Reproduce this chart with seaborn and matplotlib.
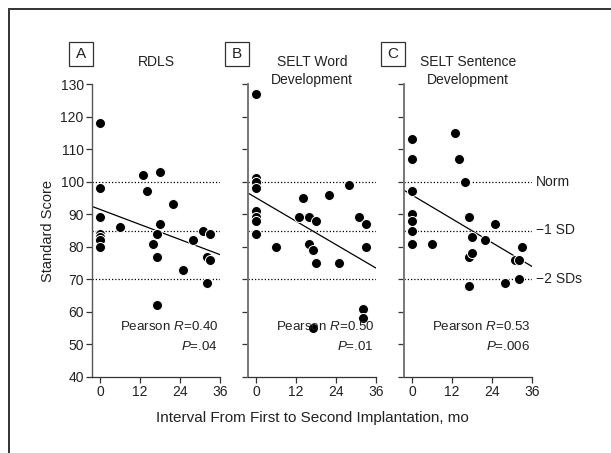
import numpy as np
import pandas as pd
import matplotlib
matplotlib.use("Agg")
import matplotlib.pyplot as plt
import seaborn as sns
from matplotlib import font_manager
from matplotlib.patches import Rectangle

# ---------------- data ----------------
a_months = [0, 0, 0, 0, 0, 0, 0, 6, 13, 14, 18, 18, 17, 16, 17, 17, 22, 25, 28, 31, 33, 32, 33, 32]
a_scores = [118, 98, 89, 84, 83, 82, 80, 86, 102, 97, 103, 87, 84, 81, 77, 62, 93, 73, 82, 85, 84, 77, 76, 69]

b_months = [0, 0, 0, 0, 0, 0, 0, 0, 6, 13, 14, 16, 18, 16, 17, 18, 17, 22, 25, 28, 31, 33, 33, 32, 32]
b_scores = [127, 101, 100, 98, 91, 89, 88, 84, 80, 89, 95, 89, 88, 81, 79, 75, 55, 96, 75, 99, 89, 87, 80, 61, 58]

c_months = [0, 0, 0, 0, 0, 0, 0, 6, 13, 14, 16, 17, 18, 17, 18, 17, 22, 25, 28, 31, 32, 32, 33]
c_scores = [113, 107, 97, 90, 88, 85, 81, 81, 115, 107, 100, 89, 83, 77, 78, 68, 82, 87, 69, 76, 76, 70, 80]

panel_letters = ["A", "B", "C"]
panel_titles = ["RDLS", "SELT Word\nDevelopment", "SELT Sentence\nDevelopment"]
pearson_r = ["0.40", "0.50", "0.53"]
pearson_p = [".04", ".01", ".006"]
ref_levels = [100, 85, 70]
ref_labels = ["Norm", "\u22121 SD", "\u22122 SDs"]
x_ticks = [0, 12, 24, 36]
y_ticks = [40, 50, 60, 70, 80, 90, 100, 110, 120, 130]

# ---------------- fonts ----------------
sns.set_theme(style="white")
names = {f.name for f in font_manager.fontManager.ttflist}
fam = "Liberation Sans Narrow" if "Liberation Sans Narrow" in names else "Liberation Sans"
plt.rcParams["font.family"] = [fam, "DejaVu Sans"]
plt.rcParams["mathtext.fontset"] = "custom"
plt.rcParams["mathtext.rm"] = fam
plt.rcParams["mathtext.it"] = fam + ":italic"
TXT = "#222222"
plt.rcParams["text.color"] = TXT
plt.rcParams["xtick.labelcolor"] = TXT
plt.rcParams["ytick.labelcolor"] = TXT

W, H = 611, 453
fig = plt.figure(figsize=(W / 100, H / 100), dpi=100)

def fx(px):
    return px / W

def fy(py):
    return 1 - py / H

# frame
fig.add_artist(Rectangle((fx(9), -0.1), 1.2, fy(9) + 0.1, transform=fig.transFigure,
                         fill=False, ec="#333333", lw=1.4))

lefts = [92, 248, 404]
ax_w, ax_top, ax_bot = 128, 84, 377
data = [(a_months, a_scores), (b_months, b_scores), (c_months, c_scores)]
fs = 10

for i, (xs, ys) in enumerate(data):
    ax = fig.add_axes([fx(lefts[i]), fy(ax_bot), fx(ax_w), (ax_bot - ax_top) / H])
    ax.set_facecolor("none")
    ax.set_xlim(-2.4, 36)
    ax.set_ylim(40, 130)
    for lv in ref_levels:
        ax.axhline(lv, color="black", lw=0.9, ls=(0, (1, 1.6)), zorder=1)
    df = pd.DataFrame({"m": xs, "s": ys})
    sns.regplot(data=df, x="m", y="s", ax=ax, ci=None, truncate=False,
                scatter_kws=dict(s=52, color="black", edgecolors="white", linewidths=0.7, alpha=1, zorder=3),
                line_kws=dict(color="black", lw=0.9, zorder=2))
    ax.set_xlim(-2.4, 36)
    ax.set_xlabel("")
    ax.set_ylabel("")
    ax.set_xticks(x_ticks)
    ax.set_yticks(y_ticks)
    ax.tick_params(axis="both", direction="out", length=4, width=0.9, color="#333333",
                   labelsize=fs, pad=2, left=True, bottom=True)
    if i > 0:
        ax.set_yticklabels([])
    for side in ["top", "right"]:
        ax.spines[side].set_visible(False)
    ax.spines["left"].set_color("#555555" if i == 0 else "#777777")
    ax.spines["left"].set_linewidth(1.0 if i == 0 else 1.4)
    ax.spines["bottom"].set_color("#333333")
    ax.spines["bottom"].set_linewidth(0.9)
    ax.text(0.985, 55.5, "Pearson $R$=" + pearson_r[i], transform=ax.get_yaxis_transform(),
            ha="right", va="center", fontsize=9.6)
    ax.text(0.985, 49.5, "$P$=" + pearson_p[i], transform=ax.get_yaxis_transform(),
            ha="right", va="center", fontsize=9.6)
    # panel letter box
    bx = lefts[i] - 23
    fig.add_artist(Rectangle((fx(bx), fy(66)), fx(24), 24 / H, transform=fig.transFigure,
                             fill=True, fc="white", ec="#333333", lw=0.9))
    fig.text(fx(bx + 12), fy(54), panel_letters[i], ha="center", va="center", fontsize=11)
    fig.text(fx(lefts[i] + ax_w / 2), fy(55.5), panel_titles[i], ha="center", va="top",
             fontsize=fs, linespacing=1.35)
    if i == 2:
        for lv, lab in zip(ref_levels, ref_labels):
            ax.text(1.03, lv, lab, transform=ax.get_yaxis_transform(), ha="left", va="center",
                    fontsize=fs, clip_on=False)

fig.text(fx(48), fy(230.5), "Standard Score", rotation=90, ha="center", va="center", fontsize=10.5)
fig.text(fx(312), fy(418), "Interval From First to Second Implantation, mo", ha="center",
         va="center", fontsize=11)

fig.savefig("out.png", dpi=100)
